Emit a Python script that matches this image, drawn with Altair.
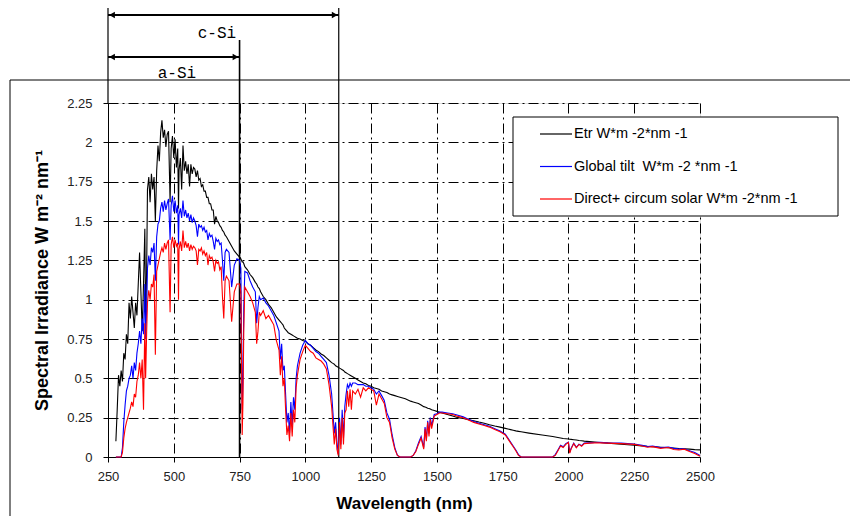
import altair as alt
import pandas as pd

# ---------------- data ----------------
WL_A = [280, 285, 290, 295, 300, 305, 310, 315, 320, 325, 330, 335, 340, 345, 350, 355, 360, 365, 370, 375, 380, 385, 390,
        393, 397,
        400, 405, 410, 415, 420, 425, 430, 435, 440, 445, 450, 455, 460, 465, 470, 475, 480,
        486,
        490, 495, 500, 505, 510, 515,
        518,
        520, 525, 530, 535, 540, 545, 550, 555, 560, 565, 570, 575, 580, 585, 590, 595, 600, 605, 610, 615,
        620, 625, 630, 635, 640, 645, 650, 655, 660, 665, 670, 675, 680, 685, 690, 695]
ETR_A = [0.10, 0.30, 0.52, 0.45, 0.55, 0.48, 0.66, 0.62, 0.78, 0.72, 0.98, 0.88, 1.02, 0.92, 0.82, 0.98, 0.90, 1.10, 1.30, 1.05, 0.80, 1.10, 1.45,
         0.85, 1.20,
         1.70, 1.78, 1.62, 1.80, 1.70, 1.78, 1.50, 1.82, 1.98, 1.88, 2.06, 2.14, 2.03, 2.08, 1.97, 2.05, 2.07,
         1.62,
         1.96, 2.04, 1.90, 2.02, 1.84, 1.96,
         1.58,
         1.82, 1.90, 1.70, 1.98, 1.82, 1.88, 1.80, 1.86, 1.72, 1.86, 1.80, 1.84, 1.83, 1.78, 1.82, 1.76, 1.77, 1.72, 1.73, 1.69,
         1.69, 1.65, 1.65, 1.61, 1.61, 1.57, 1.57, 1.48, 1.53, 1.50, 1.49, 1.47, 1.46, 1.44, 1.43, 1.41]
GLO_A = [0.0, 0.0, 0.0, 0.0, 0.0, 0.06, 0.22, 0.33, 0.42, 0.45, 0.50, 0.52, 0.58, 0.50, 0.60, 0.55, 0.66, 0.72, 0.80, 0.72, 0.88, 0.78, 1.10,
         0.75, 0.95,
         1.20, 1.28, 1.22, 1.33, 1.30, 1.36, 1.12, 1.40, 1.48, 1.50, 1.58, 1.62, 1.56, 1.63, 1.57, 1.61, 1.64,
         1.38,
         1.60, 1.66, 1.56, 1.63, 1.55, 1.60,
         1.35,
         1.54, 1.58, 1.52, 1.63, 1.53, 1.57, 1.52, 1.55, 1.50, 1.54, 1.49, 1.52, 1.50, 1.47, 1.40, 1.48, 1.46, 1.47, 1.44, 1.46,
         1.43, 1.44, 1.38, 1.42, 1.40, 1.41, 1.37, 1.32, 1.39, 1.37, 1.38, 1.35, 1.36, 1.25, 1.12, 1.30]
DIR_A = [0.0, 0.0, 0.0, 0.0, 0.0, 0.03, 0.12, 0.18, 0.22, 0.25, 0.28, 0.31, 0.35, 0.32, 0.40, 0.38, 0.48, 0.52, 0.60, 0.50, 0.62, 0.30, 0.85,
         0.50, 0.80,
         0.98, 1.06, 1.00, 1.10, 1.08, 1.16, 0.65, 1.18, 1.22, 1.26, 1.30, 1.33, 1.30, 1.36, 1.32, 1.36, 1.38,
         0.92,
         1.35, 1.40, 1.33, 1.38, 1.34, 1.36,
         1.00,
         1.32, 1.37, 1.31, 1.44, 1.33, 1.37, 1.33, 1.36, 1.31, 1.35, 1.32, 1.34, 1.33, 1.31, 1.22, 1.32, 1.31, 1.33, 1.29, 1.31,
         1.28, 1.30, 1.22, 1.28, 1.26, 1.27, 1.24, 1.18, 1.25, 1.23, 1.24, 1.19, 1.21, 1.02, 0.88, 1.12]

WL_B = [700, 710, 720, 730, 740, 750, 755, 760, 763, 766, 770, 780, 790, 800, 810, 815, 820, 825, 830, 840, 850, 860, 870,
        880, 890, 900, 905, 910, 915, 920, 925, 930, 935, 940, 945, 950, 955, 960, 965, 970, 980, 990]
ETR_B = [1.40, 1.37, 1.34, 1.31, 1.29, 1.27, 1.26, 1.24, 1.24, 1.23, 1.21, 1.19, 1.16, 1.14, 1.11, 1.10, 1.08, 1.07, 1.05, 1.02, 1.00, 0.97, 0.95,
         0.92, 0.89, 0.87, 0.86, 0.85, 0.84, 0.82, 0.81, 0.80, 0.79, 0.785, 0.78, 0.775, 0.77, 0.765, 0.76, 0.755, 0.75, 0.74]
GLO_B = [1.32, 1.30, 1.08, 1.22, 1.26, 1.25, 1.20, 0.30, 0.50, 0.95, 1.18, 1.17, 1.12, 1.08, 1.05, 0.85, 0.95, 1.02, 1.00, 1.01, 0.98, 0.96, 0.93,
         0.90, 0.85, 0.80, 0.62, 0.72, 0.55, 0.58, 0.40, 0.22, 0.28, 0.15, 0.35, 0.20, 0.38, 0.30, 0.50, 0.58, 0.66, 0.71]
DIR_B = [1.15, 1.12, 0.86, 1.05, 1.10, 1.10, 1.05, 0.14, 0.35, 0.80, 1.08, 1.05, 1.02, 0.98, 0.92, 0.72, 0.80, 0.92, 0.90, 0.93, 0.88, 0.90, 0.87,
         0.84, 0.74, 0.68, 0.52, 0.64, 0.45, 0.50, 0.30, 0.14, 0.20, 0.10, 0.28, 0.13, 0.30, 0.22, 0.44, 0.52, 0.62, 0.67]

WL_C = [1000, 1010, 1020, 1030, 1040, 1050, 1060, 1070, 1080, 1090, 1100,
        1105, 1110, 1115, 1120, 1125, 1130, 1135, 1140, 1145, 1150, 1155, 1160, 1165, 1170, 1175, 1180,
        1190, 1200, 1210, 1220, 1230, 1240, 1250, 1260, 1270, 1280, 1290, 1300, 1310, 1320, 1330, 1340, 1350,
        1360, 1380]
ETR_C = [0.735, 0.72, 0.71, 0.695, 0.68, 0.67, 0.655, 0.645, 0.63, 0.615, 0.60,
         0.595, 0.59, 0.58, 0.575, 0.57, 0.565, 0.56, 0.555, 0.55, 0.54, 0.535, 0.53, 0.525, 0.52, 0.515, 0.51,
         0.50, 0.49, 0.48, 0.47, 0.465, 0.455, 0.45, 0.44, 0.435, 0.43, 0.42, 0.415, 0.41, 0.40, 0.395, 0.39, 0.385,
         0.38, 0.37]
GLO_C = [0.74, 0.72, 0.71, 0.69, 0.67, 0.66, 0.64, 0.62, 0.60, 0.52, 0.40,
         0.28, 0.15, 0.22, 0.10, 0.02, 0.25, 0.08, 0.30, 0.12, 0.32, 0.40, 0.46, 0.44, 0.47, 0.45, 0.47,
         0.47, 0.46, 0.46, 0.46, 0.45, 0.45, 0.44, 0.43, 0.40, 0.42, 0.39, 0.36, 0.28, 0.24, 0.14, 0.06, 0.01,
         0.0, 0.0]
DIR_C = [0.71, 0.69, 0.67, 0.66, 0.63, 0.62, 0.61, 0.59, 0.56, 0.46, 0.32,
         0.20, 0.08, 0.18, 0.05, 0.01, 0.22, 0.05, 0.25, 0.08, 0.28, 0.30, 0.42, 0.32, 0.43, 0.30, 0.42,
         0.40, 0.43, 0.38, 0.44, 0.42, 0.44, 0.43, 0.42, 0.33, 0.40, 0.37, 0.34, 0.25, 0.22, 0.12, 0.05, 0.01,
         0.0, 0.0]

WL_D = [1400, 1410, 1420, 1430, 1440, 1450, 1455, 1460, 1465, 1470, 1475, 1480, 1490, 1500, 1510, 1520,
        1540, 1560, 1580, 1600, 1620, 1640, 1660, 1680, 1700, 1720, 1740, 1760, 1770, 1780, 1790]
ETR_D = [0.355, 0.35, 0.345, 0.34, 0.33, 0.32, 0.318, 0.315, 0.31, 0.308, 0.305, 0.30, 0.295, 0.29, 0.285, 0.28,
         0.27, 0.26, 0.25, 0.245, 0.237, 0.23, 0.222, 0.215, 0.205, 0.197, 0.19, 0.182, 0.178, 0.174, 0.17]
GLO_D = [0.0, 0.01, 0.04, 0.09, 0.13, 0.06, 0.19, 0.11, 0.23, 0.15, 0.25, 0.20, 0.27, 0.275, 0.285, 0.285,
         0.28, 0.275, 0.265, 0.255, 0.24, 0.225, 0.215, 0.205, 0.195, 0.18, 0.165, 0.145, 0.12, 0.095, 0.07]
DIR_D = [0.0, 0.01, 0.035, 0.08, 0.12, 0.05, 0.18, 0.10, 0.22, 0.13, 0.24, 0.18, 0.26, 0.27, 0.28, 0.28,
         0.275, 0.27, 0.258, 0.25, 0.235, 0.22, 0.21, 0.20, 0.19, 0.175, 0.16, 0.14, 0.115, 0.09, 0.065]

WL_E = [1800, 1810, 1820, 1850, 1900, 1940, 1950, 1960, 1970, 1980, 1990, 2000, 2005, 2010, 2020, 2030, 2040, 2050, 2060,
        2080, 2100, 2120, 2150, 2200, 2250, 2280, 2300, 2320, 2350, 2380, 2400, 2420, 2440, 2460, 2480, 2500]
ETR_E = [0.166, 0.163, 0.16, 0.152, 0.14, 0.13, 0.127, 0.124, 0.121, 0.118, 0.116, 0.114, 0.113, 0.112, 0.11, 0.108, 0.105, 0.103, 0.101,
         0.098, 0.095, 0.092, 0.088, 0.081, 0.075, 0.071, 0.068, 0.066, 0.062, 0.059, 0.057, 0.054, 0.052, 0.05, 0.047, 0.045]
GLO_E = [0.045, 0.015, 0.0, 0.0, 0.0, 0.0, 0.015, 0.045, 0.075, 0.065, 0.085, 0.095, 0.03, 0.055, 0.088, 0.062, 0.082, 0.072, 0.088,
         0.09, 0.092, 0.093, 0.09, 0.088, 0.083, 0.075, 0.066, 0.07, 0.06, 0.064, 0.055, 0.05, 0.052, 0.04, 0.028, 0.01]
DIR_E = [0.04, 0.01, 0.0, 0.0, 0.0, 0.0, 0.01, 0.04, 0.07, 0.06, 0.08, 0.092, 0.025, 0.05, 0.085, 0.058, 0.08, 0.068, 0.085,
         0.088, 0.09, 0.09, 0.088, 0.085, 0.08, 0.07, 0.062, 0.066, 0.055, 0.06, 0.048, 0.045, 0.05, 0.035, 0.022, 0.005]

SERIES_NAMES = ["Etr W*m -2*nm -1", "Global tilt\u00a0 W*m -2 *nm -1", "Direct+ circum solar W*m -2*nm -1"]
SERIES_COLORS = ["#000000", "#0000ff", "#ff0000"]
X_TICKS = [250, 500, 750, 1000, 1250, 1500, 1750, 2000, 2250, 2500]
Y_TICKS = [0, 0.25, 0.5, 0.75, 1, 1.25, 1.5, 1.75, 2, 2.25]
RANGE_START = 250     # nm, left end of both absorption ranges
ASI_EDGE = 750        # nm, a-Si absorption edge
CSI_EDGE = 1127       # nm, c-Si absorption edge
ASI_LABEL_AT = 512    # nm, centre of the "a-Si" label
CSI_LABEL_AT = 664    # nm, centre of the "c-Si" label

WL = WL_A + WL_B + WL_C + WL_D + WL_E
ETR = ETR_A + ETR_B + ETR_C + ETR_D + ETR_E
GLO = GLO_A + GLO_B + GLO_C + GLO_D + GLO_E
DIR = DIR_A + DIR_B + DIR_C + DIR_D + DIR_E
assert len(WL) == len(ETR) == len(GLO) == len(DIR), (len(WL), len(ETR), len(GLO), len(DIR))

df = pd.DataFrame({"wl": WL, "etr": ETR, "glo": GLO, "dir": DIR})
dummy = pd.DataFrame({"k": [0]})

W, H = 592, 354
FONT = "Liberation Sans"
DASH = [10, 4, 2, 4]

xscale = alt.Scale(domain=[250, 2500], nice=False, zero=False)
yscale = alt.Scale(domain=[0, 2.25], nice=False, zero=True)

xaxis = alt.Axis(values=X_TICKS, format="d", title="Wavelength (nm)",
                 titleFont=FONT, titleFontSize=17, titleFontWeight="bold", titleColor="black",
                 titleX=296, titleY=46, titleBaseline="middle", titleAlign="center",
                 labelFont=FONT, labelFontSize=13, labelColor="#222222", labelPadding=8,
                 labelFlush=False, labelOverlap=False,
                 tickSize=5, tickColor="black", domainColor="black",
                 grid=True, gridColor="black", gridDash=DASH, gridWidth=1, gridOpacity=1)
yaxis = alt.Axis(values=Y_TICKS, labelExpr="'' + datum.value",
                 title="Spectral Irradiance W m\u207b\u00b2 nm\u207b\u00b9",
                 titleFont=FONT, titleFontSize=18, titleFontWeight="bold", titleColor="black",
                 titleAngle=-90, titleX=-66, titleY=H / 2, titleBaseline="middle", titleAlign="center",
                 labelFont=FONT, labelFontSize=13, labelColor="#222222", labelPadding=11,
                 labelFlush=False, labelOverlap=False,
                 tickSize=5, tickColor="black", domainColor="black",
                 grid=True, gridColor="black", gridDash=DASH, gridWidth=1, gridOpacity=1)


def series(col, color):
    return alt.Chart(df).mark_line(color=color, strokeWidth=1.1).encode(
        x=alt.X("wl:Q", scale=xscale, axis=xaxis),
        y=alt.Y(f"{col}:Q", scale=yscale, axis=yaxis),
    )


layers = []
# outer frame of the original figure
layers.append(alt.Chart(dummy).mark_rule(color="black", strokeWidth=1).encode(
    x=alt.value(-98), x2=alt.value(760), y=alt.value(-23)))
layers.append(alt.Chart(dummy).mark_rule(color="black", strokeWidth=1).encode(
    x=alt.value(-98), y=alt.value(-23), y2=alt.value(430)))

# vertical range markers
layers.append(alt.Chart(dummy).mark_rule(color="black", strokeWidth=1.2).encode(
    x=alt.datum(RANGE_START), y=alt.value(-98), y2=alt.value(0)))
layers.append(alt.Chart(dummy).mark_rule(color="black", strokeWidth=1.6).encode(
    x=alt.datum(ASI_EDGE), y=alt.value(-63), y2=alt.value(H)))
layers.append(alt.Chart(dummy).mark_rule(color="black", strokeWidth=1.2).encode(
    x=alt.datum(CSI_EDGE), y=alt.value(-101), y2=alt.value(H)))

# double arrows
for edge, ypx in [(CSI_EDGE, -88), (ASI_EDGE, -46)]:
    layers.append(alt.Chart(dummy).mark_rule(color="black", strokeWidth=2).encode(
        x=alt.datum(RANGE_START), x2=alt.datum(edge), y=alt.value(ypx)))
    layers.append(alt.Chart(dummy).mark_point(shape="triangle-right", filled=True, size=45,
                                              color="black", opacity=1, xOffset=-4).encode(
        x=alt.datum(edge), y=alt.value(ypx)))
    layers.append(alt.Chart(dummy).mark_point(shape="triangle-left", filled=True, size=45,
                                              color="black", opacity=1, xOffset=4).encode(
        x=alt.datum(RANGE_START), y=alt.value(ypx)))

layers.append(alt.Chart(dummy).mark_text(font="Liberation Mono", fontSize=16, color="black",
                                         baseline="middle").encode(
    x=alt.datum(CSI_LABEL_AT), y=alt.value(-70), text=alt.value("c-Si")))
layers.append(alt.Chart(dummy).mark_text(font="Liberation Mono", fontSize=16, color="black",
                                         baseline="middle").encode(
    x=alt.datum(ASI_LABEL_AT), y=alt.value(-30), text=alt.value("a-Si")))

# data series
layers.append(series("etr", SERIES_COLORS[0]))
layers.append(series("glo", SERIES_COLORS[1]))
layers.append(series("dir", SERIES_COLORS[2]))

# legend box
layers.append(alt.Chart(dummy).mark_rect(fill="white", stroke="black", strokeWidth=1).encode(
    x=alt.value(405), x2=alt.value(730), y=alt.value(14), y2=alt.value(113)))
for i, (name, col) in enumerate(zip(SERIES_NAMES, SERIES_COLORS)):
    ypx = 31 + i * 32.5
    layers.append(alt.Chart(dummy).mark_rule(color=col, strokeWidth=1.2).encode(
        x=alt.value(432), x2=alt.value(464), y=alt.value(ypx)))
    layers.append(alt.Chart(dummy).mark_text(font=FONT, fontSize=14.5, color="black",
                                             align="left", baseline="middle").encode(
        x=alt.value(466), y=alt.value(ypx), text=alt.value(name)))

chart = alt.layer(*layers).properties(
    width=W, height=H,
    padding={"left": 100, "top": 95, "right": 150, "bottom": 59},
    autosize=alt.AutoSizeParams(type="none"),
).configure_view(stroke="black", strokeWidth=1).configure(background="white")

chart.save("out.html", embed_options={"renderer": "svg", "actions": False})
